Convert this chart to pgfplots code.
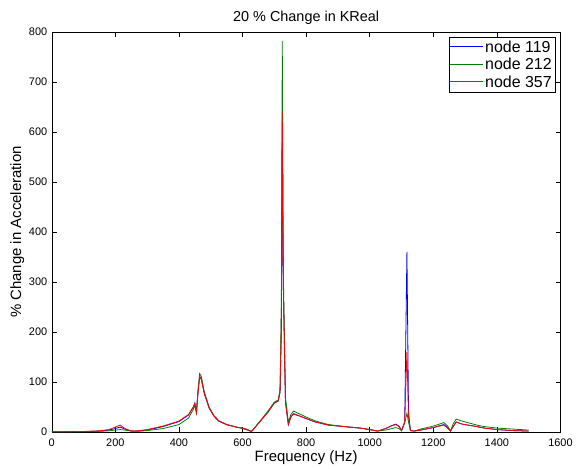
\documentclass[border=0pt]{standalone}
\usepackage{pgfplots}
\pgfplotsset{compat=1.18}
\usepackage{fontspec}
\setmainfont{Liberation Sans}
\definecolor{mgreen}{rgb}{0,0.5,0}
\definecolor{mblue}{rgb}{0,0,1}
\definecolor{mred}{rgb}{1,0,0}
\pgfplotsset{mylegend/.style={legend image code/.code={\fill[##1, draw=none] (0pt,-0.1pt) rectangle (33pt,0.9pt);}}}
\begin{document}
\begin{tikzpicture}[x=1pt,y=1pt]
\begin{axis}[
  scale only axis,
  width=511pt, height=402pt,
  xmin=0, xmax=1600, ymin=0, ymax=800,
  xtick={0,200,...,1600}, ytick={0,100,...,800},
  tick align=inside, tick pos=both,
  major tick length=5pt,
  tick style={black, line width=0.5pt},
  /pgf/number format/assume math mode=true,
  /pgf/number format/1000 sep={},
  tick label style={font=\fontsize{11}{12}\selectfont},
  xticklabel style={yshift=-3pt},
  yticklabel style={xshift=-1pt},
  xlabel={Frequency (Hz)}, ylabel={\% Change in Acceleration},
  label style={font=\fontsize{15}{16}\selectfont},
  xlabel style={at={(axis description cs:0.5,0)}, anchor=base, yshift=-30pt},
  ylabel style={yshift=-2pt},
  title={20 \% Change in KReal},
  title style={font=\fontsize{14.5}{16}\selectfont, yshift=-2pt},
  axis line style={black, line width=0.5pt},
  legend style={at={(0.990,0.9876)}, anchor=north east, font=\fontsize{16}{17}\selectfont, draw=black, line width=0.5pt, inner sep=1.5pt, row sep=0.5pt},
  legend cell align=left,
  every axis plot/.append style={line width=0.8pt},
  mylegend,
]
\addplot[mblue] coordinates {
(0,0.5) (100,1) (150,2) (180,4) (200,7) (215,10) (230,6) (250,2) (270,2) (300,4) (350,11) (400,21) (430,34) (445,50) (450,58) (455,40) (460,80) (465,110) (470,106) (480,76) (495,48) (510,32) (525,22) (550,15) (580,10) (600,8) (615,5) (628,1) (640,10) (660,25) (680,40) (700,58) (712,62) (718,80) (722,200) (725,620) (728,300) (735,60) (744,15) (752,30) (760,36) (780,32) (800,27) (830,20) (870,14) (920,11) (970,8) (1000,5) (1025,2) (1050,7) (1070,13) (1082,16) (1092,12) (1100,3) (1110,20) (1117,360) (1122,40) (1128,3) (1140,2) (1160,4) (1200,9) (1233,15) (1245,9) (1254,2) (1262,11) (1272,20) (1290,16) (1337,11) (1360,8) (1400,5) (1450,3) (1500,2)
};
\addplot[mgreen] coordinates {
(0,0.5) (100,0.8) (150,1.5) (180,2.5) (200,4) (215,5) (230,4) (250,2) (270,1.5) (300,3) (350,7) (400,15) (430,28) (445,45) (450,54) (455,38) (460,85) (465,117) (470,112) (480,80) (495,50) (510,33) (525,23) (550,15) (580,10) (600,7) (615,4) (628,1) (640,10) (660,26) (680,42) (700,60) (712,64) (718,85) (722,250) (725,782) (728,330) (735,70) (744,20) (752,35) (760,42) (780,36) (800,30) (830,22) (870,15) (920,11) (970,8) (1000,5) (1025,2) (1050,4) (1070,7) (1082,9) (1092,7) (1100,3) (1110,18) (1117,38) (1122,20) (1128,3) (1140,2) (1160,6) (1200,12) (1233,19) (1245,12) (1254,2) (1262,16) (1272,26) (1290,22) (1337,14) (1360,11) (1400,8) (1450,6) (1500,4)
};
\addplot[mred] coordinates {
(0,0.5) (100,1.2) (150,2.5) (180,5) (200,10) (215,14) (230,7) (250,2) (270,2.5) (300,5) (350,12) (400,22) (430,35) (445,50) (450,57) (455,39) (460,78) (465,112) (470,107) (480,77) (495,48) (510,32) (525,22) (550,15) (580,10) (600,8) (615,5) (628,1) (640,10) (660,25) (680,40) (700,58) (712,62) (718,80) (722,220) (725,640) (728,300) (735,60) (744,15) (752,30) (760,37) (780,32) (800,27) (830,20) (870,14) (920,11) (970,8) (1000,5) (1025,2) (1050,7) (1070,13) (1082,15) (1092,11) (1100,3) (1110,20) (1117,160) (1122,30) (1128,3) (1140,2) (1160,4) (1200,9) (1233,14) (1245,8) (1254,2) (1262,11) (1272,20) (1290,16) (1337,11) (1360,8) (1400,5) (1450,3) (1500,2)
};
\legend{node 119, node 212, node 357}
\end{axis}
\path (-52pt,-37pt) (524pt,434pt);
\end{tikzpicture}
\end{document}
